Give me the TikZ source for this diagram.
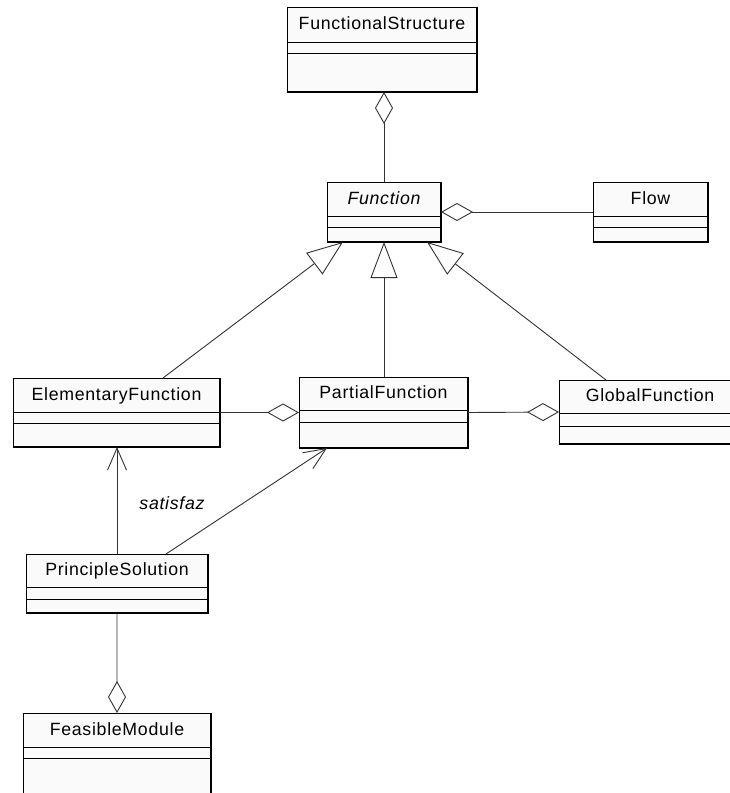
\documentclass[tikz,border=0pt]{standalone}
\usepackage{fontspec}
\setmainfont{Liberation Sans}[LetterSpace=4]
\usetikzlibrary{arrows.meta,calc}
\definecolor{boxfill}{HTML}{FAFAFA}
\definecolor{linec}{HTML}{333333}
\tikzset{
  cls/.style={draw=black, fill=boxfill, line width=0.9bp, inner sep=0pt, outer sep=0pt, rectangle},
  divl/.style={draw=black, line width=0.9bp},
  shadowl/.style={draw=black, line width=1.6bp},
  lbl/.style={font=\fontsize{17.8}{20}\selectfont, text=black, inner sep=0pt},
  link/.style={draw=linec, line width=0.9bp},
  agg/.style={link, {Diamond[open, length=32bp, width=18bp]}-},
  aggend/.style={link, -{Diamond[open, length=32bp, width=18bp]}},
  gen/.style={link, -{Triangle[open, length=36bp, width=27bp]}},
  nav/.style={link, -{Straight Barb[length=22bp, width=19bp]}}
}
\newcommand\umlclass[8]{%
  \pgfmathsetmacro\uclw{#4-#2}\pgfmathsetmacro\uclh{#7-#3}%
  \node[cls, minimum width=\uclw bp, minimum height=\uclh bp, anchor=north west] (#1) at (#2,#3) {};
  \draw[divl] (#2,#5) -- (#4,#5) (#2,#6) -- (#4,#6);
  \draw[shadowl] (#2,#7) -- (#4,#7) -- (#4,#3);
  \pgfmathsetmacro\uclx{(#2+#4)/2}\pgfmathsetmacro\ucly{(#3+#5)/2+5.2}%
  \node[lbl, anchor=base] (#1-name) at (\uclx,\ucly) {#8};
}
\begin{document}
\begin{tikzpicture}[x=1bp, y=-1bp]
\clip (0,0) rectangle (730,793);
\fill[white] (0,0) rectangle (730,793);
% classes
\umlclass{fs}{287}{7}{477}{42}{53}{92}{FunctionalStructure}
\umlclass{fn}{327}{182}{441}{216}{227}{242}{\itshape Function}
\umlclass{fl}{593}{182}{708}{216}{227}{242}{Flow}
\umlclass{ef}{13}{378}{220}{412}{423}{447}{ElementaryFunction}
\umlclass{pf}{299}{377}{468}{410}{422}{448}{PartialFunction}
\umlclass{gf}{559}{380}{741}{413}{426}{444}{GlobalFunction}
\umlclass{ps}{26}{554}{208}{587}{599}{613}{PrincipleSolution}
\umlclass{fm}{23}{713}{211}{747}{758}{820}{FeasibleModule}
% aggregations
\draw[agg] (fn.north |- fs.south) -- (fn.north);
\draw[agg] (fn.east) -- (fl.west);
\draw[aggend] (ef.east) -- (pf.west);
\draw[aggend] (pf.east) -- (gf.west);
\draw[aggend] (ps.south) -- (fm.north);
% generalizations
\draw[gen] ($(ef.north)+(46.5,0)$) -- ($(fn.south west)+(16,0)$);
\draw[gen] (fn.south |- pf.north) -- (fn.south);
\draw[gen] ($(gf.north west)+(47,0)$) -- ($(fn.south east)+(-14,0)$);
% navigable associations
\draw[nav] (ps.north) -- (ps.north |- ef.south);
\draw[nav] ($(ps.north)+(49,0)$) -- ($(pf.south west)+(28,0)$);
\node[lbl, font=\fontsize{17.8}{20}\selectfont\itshape] (sat) at (172,503) {satisfaz};
\end{tikzpicture}
\end{document}
